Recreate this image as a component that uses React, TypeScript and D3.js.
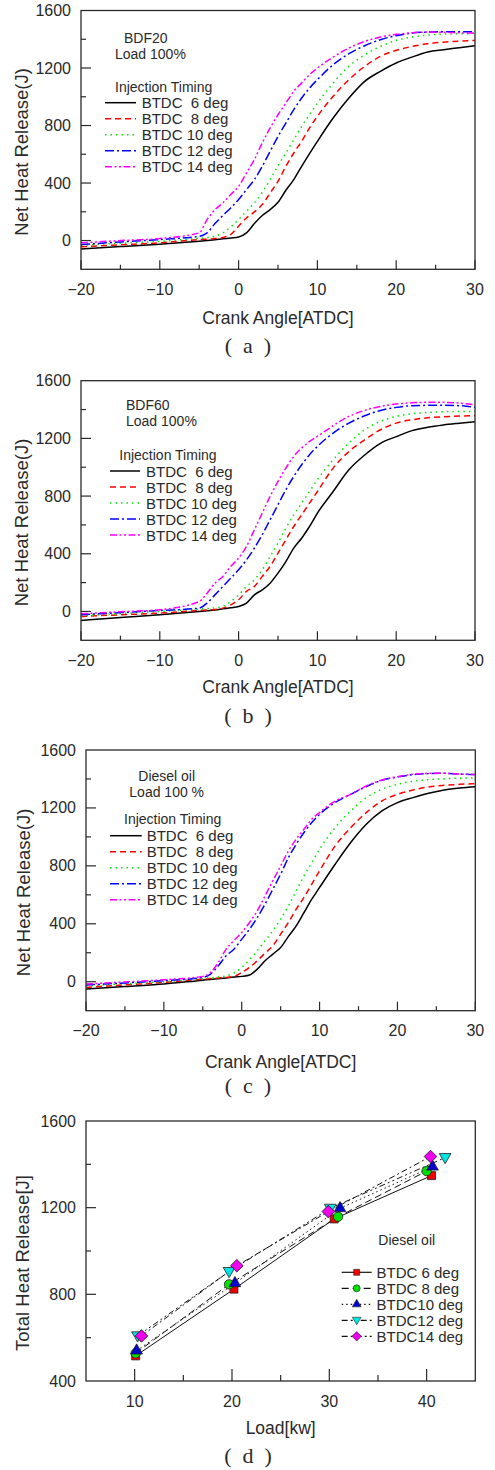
import React, { useRef, useEffect } from "react";
import * as d3 from "d3";

// crank angle grid shared by panels (a)-(c)
const ANGLES = [-20, -15, -10, -5, -4, -3, -2, -1, 0, 1, 2, 3, 4, 5, 6, 7, 8, 9, 10, 12, 14, 16, 18, 20, 22, 24, 26, 28, 30];

// (a) BDF20
const BDF20_6 = [-58, -42, -25, -5, 0, 5, 12, 18, 25, 53, 118, 174, 215, 266, 350, 424, 516, 605, 690, 852, 991, 1107, 1177, 1235, 1276, 1311, 1327, 1341, 1355];
const BDF20_8 = [-44, -30, -16, 7, 10, 14, 21, 42, 100, 157, 199, 250, 331, 412, 516, 609, 690, 783, 864, 1003, 1119, 1211, 1281, 1323, 1350, 1369, 1380, 1387, 1392];
const BDF20_10 = [-32, -18, -5, 16, 20, 30, 53, 95, 146, 204, 262, 336, 424, 521, 609, 701, 794, 875, 956, 1095, 1211, 1292, 1350, 1392, 1415, 1429, 1436, 1438, 1440];
const BDF20_12 = [-28, -10, 7, 30, 53, 118, 174, 227, 285, 354, 424, 516, 620, 724, 817, 910, 991, 1061, 1119, 1223, 1300, 1355, 1397, 1425, 1443, 1450, 1452, 1452, 1452];
const BDF20_14 = [-16, 0, 14, 53, 146, 215, 262, 320, 377, 470, 563, 679, 783, 875, 956, 1038, 1096, 1154, 1200, 1276, 1339, 1385, 1415, 1434, 1445, 1450, 1448, 1445, 1443];

// (b) BDF60
const BDF60_6 = [-62, -42, -23, 0, 5, 10, 18, 26, 35, 58, 115, 150, 196, 266, 346, 439, 508, 589, 682, 832, 982, 1085, 1166, 1212, 1254, 1277, 1293, 1305, 1316];
const BDF60_8 = [-35, -23, -12, 7, 10, 14, 23, 46, 81, 139, 173, 243, 312, 404, 497, 589, 670, 751, 832, 994, 1109, 1190, 1260, 1306, 1329, 1343, 1350, 1355, 1357];
const BDF60_10 = [-30, -15, 0, 16, 20, 25, 35, 69, 115, 173, 220, 289, 381, 474, 578, 670, 751, 832, 913, 1052, 1168, 1260, 1318, 1353, 1371, 1380, 1385, 1387, 1387];
const BDF60_12 = [-23, -8, 7, 23, 58, 115, 173, 231, 289, 358, 439, 532, 636, 740, 844, 936, 1017, 1087, 1144, 1237, 1306, 1357, 1394, 1415, 1427, 1429, 1429, 1427, 1415];
const BDF60_14 = [-16, -2, 12, 69, 127, 196, 243, 312, 370, 451, 566, 682, 798, 902, 994, 1075, 1133, 1179, 1214, 1288, 1353, 1394, 1422, 1438, 1447, 1450, 1450, 1445, 1433];

// (c) Diesel oil
const DSL_6 = [-51, -33, -16, 11, 16, 21, 26, 32, 37, 46, 87, 145, 191, 237, 313, 386, 478, 570, 651, 811, 961, 1087, 1179, 1237, 1271, 1301, 1324, 1338, 1347];
const DSL_8 = [-39, -22, -5, 18, 22, 26, 30, 37, 64, 99, 145, 198, 248, 329, 409, 501, 582, 674, 766, 938, 1064, 1168, 1248, 1294, 1324, 1345, 1356, 1363, 1368];
const DSL_10 = [-28, -14, 0, 23, 27, 33, 41, 60, 99, 152, 214, 283, 352, 432, 524, 628, 731, 823, 915, 1064, 1179, 1271, 1329, 1363, 1384, 1395, 1402, 1405, 1407];
const DSL_12 = [-23, -8, 7, 30, 53, 110, 179, 225, 294, 363, 444, 536, 639, 743, 857, 949, 1030, 1099, 1156, 1237, 1294, 1347, 1391, 1414, 1430, 1437, 1439, 1434, 1430];
const DSL_14 = [-16, -1, 14, 37, 64, 133, 225, 283, 340, 409, 490, 593, 697, 800, 903, 984, 1053, 1122, 1168, 1248, 1294, 1352, 1393, 1416, 1432, 1439, 1439, 1434, 1430];

const TIMING_LABELS = ["BTDC  6 deg", "BTDC  8 deg", "BTDC 10 deg", "BTDC 12 deg", "BTDC 14 deg"];
const CURVE_COLORS = ["#000000", "#ff0000", "#00e600", "#0000ff", "#ff00ff"];
const CURVE_DASHES = [null, "6,4", "1.5,4", "9,3,2,3", "7,2.5,2,2.5,2,2.5"];

// (d) total heat release vs load
const LOAD_LABELS = ["BTDC 6 deg", "BTDC 8 deg", "BTDC10 deg", "BTDC12 deg", "BTDC14 deg"];
const LOAD_6 = [10.1, 20.2, 30.5, 40.5];
const THR_6 = [516, 824, 1148, 1348];
const LOAD_8 = [10.1, 19.7, 30.9, 40.0];
const THR_8 = [528, 846, 1158, 1369];
const LOAD_10 = [10.2, 20.3, 31.1, 40.6];
const THR_10 = [540, 851, 1197, 1389];
const LOAD_12 = [10.3, 19.7, 30.1, 41.9];
const THR_12 = [608, 905, 1197, 1431];
const LOAD_14 = [10.7, 20.5, 29.9, 40.4];
const THR_14 = [608, 932, 1182, 1436];
const MARK_COLORS = ["#ee0000", "#00e000", "#0000cc", "#00e5e5", "#ee00ee"];
const LOAD_DASHES = [null, "7,4", "1.5,3", "6,3,2,3,2,3", "6,3,2,3"];

const SANS = "'Liberation Sans', Arial, sans-serif";
const SERIF = "'Liberation Serif', 'Times New Roman', serif";
const INK = "#2a2a2a";

const App = () => {
  const svgRef = useRef(null);

  useEffect(() => {
    const svg = d3.select(svgRef.current);
    svg.selectAll("*").remove();

    const addText = (g, x, y, str, size, anchor = "start", family = SANS) =>
      g
        .append("text")
        .attr("x", x)
        .attr("y", y)
        .attr("font-family", family)
        .attr("font-size", size)
        .attr("fill", INK)
        .attr("text-anchor", anchor)
        .attr("dominant-baseline", "central")
        .attr("xml:space", "preserve")
        .style("white-space", "pre")
        .text(str);

    function frameAndAxes(g, x, y, p, xTicks, xMajor, yTicks, yMajor, xLen, yLen) {
      g.append("rect")
        .attr("x", p.left)
        .attr("y", p.top)
        .attr("width", p.right - p.left)
        .attr("height", p.bottom - p.top)
        .attr("fill", "none")
        .attr("stroke", INK)
        .attr("stroke-width", 1.3);

      xTicks.forEach((t) => {
        const major = xMajor(t);
        g.append("line")
          .attr("x1", x(t)).attr("x2", x(t))
          .attr("y1", p.bottom).attr("y2", p.bottom - (major ? xLen : xLen / 2))
          .attr("stroke", INK).attr("stroke-width", 1.2);
        if (major) addText(g, x(t), p.bottom + 20, d3.format("d")(t).replace("-", "\u2212"), 16, "middle");
      });
      yTicks.forEach((t) => {
        const major = yMajor(t);
        if (y(t) > p.top + 0.5 && y(t) < p.bottom - 0.5) {
          g.append("line")
            .attr("x1", p.left).attr("x2", p.left + (major ? yLen : yLen / 2))
            .attr("y1", y(t)).attr("y2", y(t))
            .attr("stroke", INK).attr("stroke-width", 1.2);
        }
        if (major) addText(g, p.left - 10, y(t), String(t), 16, "end");
      });

      addText(g, (p.left + p.right) / 2, p.titleY, p.xTitle, 17.5, "middle");
      addText(g, 0, 0, p.yTitle, 18.5, "middle")
        .attr("transform", `translate(${p.yTitleX},${(p.top + p.bottom) / 2 + 12}) rotate(-90)`);
      addText(g, 248, p.captionY, p.caption, 22, "middle", SERIF);
    }

    function curvePanel(p) {
      const g = svg.append("g");
      const x = d3.scaleLinear().domain([-20, 30]).range([p.left, p.right]);
      const y = d3.scaleLinear().domain([-200, 1600]).range([p.bottom, p.top]);

      const line = d3
        .line()
        .x((d, i) => x(ANGLES[i]))
        .y((d) => y(d))
        .curve(d3.curveMonotoneX);

      p.series.forEach((vals, i) => {
        g.append("path")
          .attr("d", line(vals))
          .attr("fill", "none")
          .attr("stroke", CURVE_COLORS[i])
          .attr("stroke-width", 1.5)
          .attr("stroke-dasharray", CURVE_DASHES[i]);
      });

      frameAndAxes(
        g, x, y, p,
        d3.range(-20, 31, 5), (t) => t % 10 === 0,
        d3.range(-200, 1601, 200), (t) => t % 400 === 0,
        9, 10
      );

      // legend header
      p.header.forEach((h) => addText(g, h.x, h.y, h.text, 14, h.anchor || "start"));
      addText(g, p.itX, p.itY, "Injection Timing", 14);
      TIMING_LABELS.forEach((lab, i) => {
        const yy = p.legY + i * 16;
        g.append("line")
          .attr("x1", p.legX0).attr("x2", p.legX1)
          .attr("y1", yy).attr("y2", yy)
          .attr("stroke", CURVE_COLORS[i])
          .attr("stroke-width", 1.5)
          .attr("stroke-dasharray", CURVE_DASHES[i]);
        addText(g, p.legText, yy, lab, 15);
      });
    }

    curvePanel({
      left: 81, right: 475, top: 10.5, bottom: 269.3,
      titleY: 318, captionY: 345, yTitleX: 21,
      xTitle: "Crank Angle[ATDC]", yTitle: "Net Heat Release(J)", caption: "(  a  )",
      series: [BDF20_6, BDF20_8, BDF20_10, BDF20_12, BDF20_14],
      header: [{ x: 124, y: 38, text: "BDF20" }, { x: 115, y: 54, text: "Load 100%" }],
      itX: 115, itY: 86.5, legX0: 105, legX1: 136, legText: 141.7, legY: 102.7,
    });

    curvePanel({
      left: 81, right: 475, top: 380.7, bottom: 640.3,
      titleY: 686.7, captionY: 715, yTitleX: 21,
      xTitle: "Crank Angle[ATDC]", yTitle: "Net Heat Release(J)", caption: "(  b  )",
      series: [BDF60_6, BDF60_8, BDF60_10, BDF60_12, BDF60_14],
      header: [{ x: 126, y: 405, text: "BDF60" }, { x: 126, y: 421, text: "Load 100%" }],
      itX: 119.3, itY: 455, legX0: 110, legX1: 140, legText: 146, legY: 471,
    });

    curvePanel({
      left: 86, right: 475.3, top: 750, bottom: 1010.7,
      titleY: 1062, captionY: 1085, yTitleX: 23,
      xTitle: "Crank Angle[ATDC]", yTitle: "Net Heat Release(J)", caption: "(  c  )",
      series: [DSL_6, DSL_8, DSL_10, DSL_12, DSL_14],
      header: [
        { x: 166.7, y: 776, text: "Diesel oil", anchor: "middle" },
        { x: 166.7, y: 791.7, text: "Load 100 %", anchor: "middle" },
      ],
      itX: 124, itY: 819.3, legX0: 110, legX1: 141.7, legText: 146.7, legY: 835.7,
    });

    // (d) total heat release vs load
    {
      const p = {
        left: 86, right: 475.3, top: 1121, bottom: 1381,
        titleY: 1428, captionY: 1455, yTitleX: 22,
        xTitle: "Load[kw]", yTitle: "Total Heat Release[J]", caption: "(  d  )",
      };
      const g = svg.append("g");
      const x = d3.scaleLinear().domain([5, 45]).range([p.left, p.right]);
      const y = d3.scaleLinear().domain([400, 1600]).range([p.bottom, p.top]);

      const loads = [LOAD_6, LOAD_8, LOAD_10, LOAD_12, LOAD_14];
      const thr = [THR_6, THR_8, THR_10, THR_12, THR_14];
      const downTri = {
        draw(ctx, size) {
          const s = Math.sqrt(size / (Math.sqrt(3) / 4));
          const h = (s * Math.sqrt(3)) / 2;
          ctx.moveTo(0, h * 0.6);
          ctx.lineTo(s / 2, -h * 0.4);
          ctx.lineTo(-s / 2, -h * 0.4);
          ctx.closePath();
        },
      };
      const symbols = [
        { type: d3.symbolSquare, size: 64, rot: 0 },
        { type: d3.symbolCircle, size: 70, rot: 0 },
        { type: d3.symbolTriangle, size: 60, rot: 0 },
        { type: downTri, size: 60, rot: 0 },
        { type: d3.symbolSquare, size: 80, rot: 45 },
      ];

      const line = d3.line().x((d) => x(d[0])).y((d) => y(d[1]));
      loads.forEach((xs, i) => {
        const pts = xs.map((v, k) => [v, thr[i][k]]);
        g.append("path")
          .attr("d", line(pts))
          .attr("fill", "none")
          .attr("stroke", "#111")
          .attr("stroke-width", 1)
          .attr("stroke-dasharray", LOAD_DASHES[i]);
      });
      loads.forEach((xs, i) => {
        const sym = symbols[i];
        xs.forEach((v, k) => {
          g.append("path")
            .attr("d", d3.symbol(sym.type, sym.size)())
            .attr("transform", `translate(${x(v)},${y(thr[i][k])}) rotate(${sym.rot})`)
            .attr("fill", MARK_COLORS[i])
            .attr("stroke", "#222")
            .attr("stroke-width", 0.8);
        });
      });

      frameAndAxes(
        g, x, y, p,
        d3.range(10, 41, 5), (t) => t % 10 === 0,
        d3.range(400, 1601, 200), (t) => t % 400 === 0,
        12, 10
      );

      addText(g, 378.3, 1240, "Diesel oil", 14);
      LOAD_LABELS.forEach((lab, i) => {
        const yy = 1272.3 + i * 16;
        g.append("line")
          .attr("x1", 341.7).attr("x2", 371.7)
          .attr("y1", yy).attr("y2", yy)
          .attr("stroke", "#111")
          .attr("stroke-width", 1.2)
          .attr("stroke-dasharray", LOAD_DASHES[i]);
        const sym = symbols[i];
        g.append("path")
          .attr("d", d3.symbol(sym.type, sym.size * 0.55)())
          .attr("transform", `translate(356.7,${yy}) rotate(${sym.rot})`)
          .attr("fill", MARK_COLORS[i])
          .attr("stroke", "#222")
          .attr("stroke-width", 0.6);
        addText(g, 376.5, yy, lab, 15);
      });
    }
  }, []);

  return (
    <svg
      ref={svgRef}
      width={495}
      height={1470}
      style={{ position: "absolute", left: 0, top: 0, background: "#fff" }}
    ></svg>
  );
};

export default App;
